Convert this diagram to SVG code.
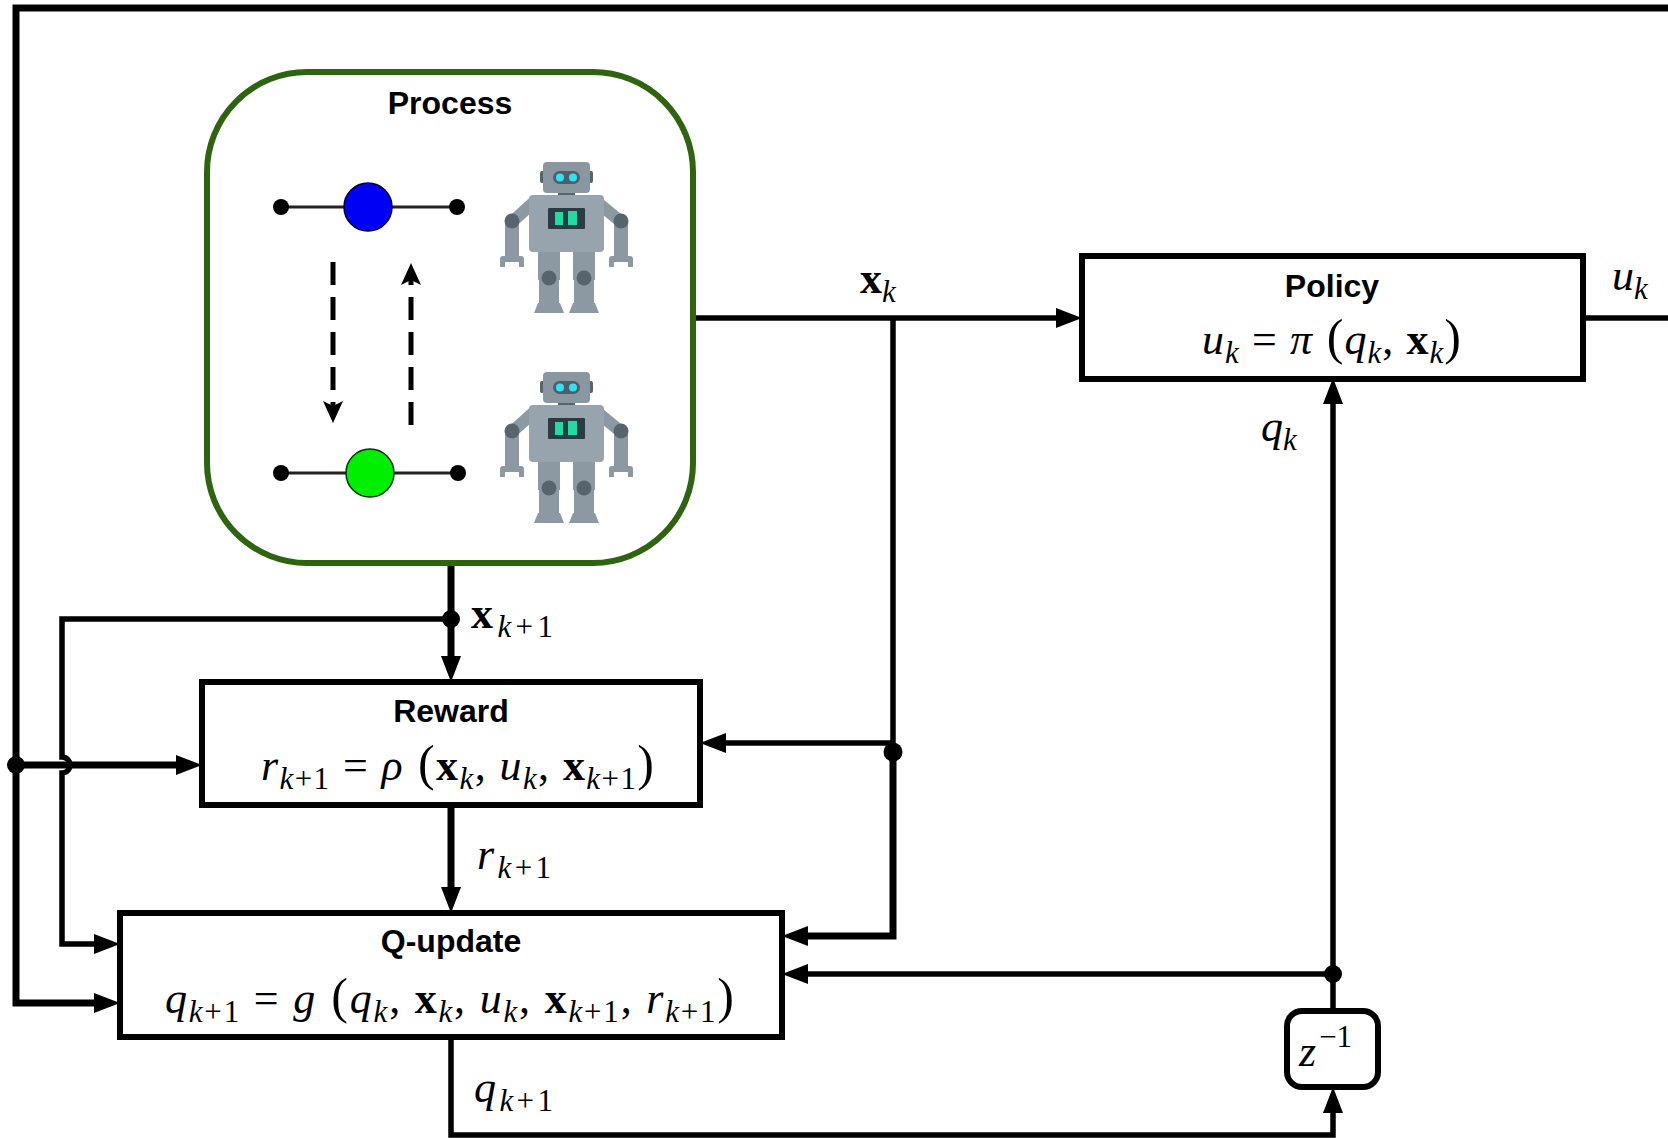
<svg xmlns="http://www.w3.org/2000/svg" width="1668" height="1138" viewBox="0 0 1668 1138">
  <defs>
    <style>
      .box{fill:#fff;stroke:#000;stroke-width:6}
      .title{font-family:"Liberation Sans",Arial,sans-serif;font-weight:bold;font-size:32px;text-anchor:middle;fill:#000}
      .math{font-family:"Liberation Serif","Times New Roman",serif;font-size:44px;fill:#000}
      .it{font-style:italic}
      .bf{font-weight:bold;font-style:normal}
      .sub{font-size:31px}
      .par{font-size:50px}
      .wire{fill:none;stroke:#000;stroke-width:5.5}
      .thick{stroke-width:7}
      .dot{fill:#000}
      .body{fill:#8c99a3}
      .joint{fill:#56646e}
    </style>
    <marker id="arr" markerUnits="userSpaceOnUse" markerWidth="26" markerHeight="20" refX="6" refY="10" orient="auto">
      <path d="M0,0 L26,10 L0,20 Z" fill="#000"/>
    </marker>
    <marker id="arrSmall" markerUnits="userSpaceOnUse" markerWidth="22" markerHeight="20" refX="7" refY="10" orient="auto">
      <path d="M0,0 L22,10 L0,20 L5,10 Z" fill="#000"/>
    </marker>
    <!-- flat robot icon, local origin at its top-left corner -->
    <g id="robot">
      <path d="M34,40 L13,59" stroke="#8c99a3" stroke-width="12" stroke-linecap="round"/>
      <path d="M97,40 L120,59" stroke="#8c99a3" stroke-width="12" stroke-linecap="round"/>
      <rect class="body" x="5" y="60" width="14" height="37"/>
      <rect class="body" x="114" y="60" width="14" height="37"/>
      <path class="body" d="M0,105 V97 Q0,94 3,94 H21 Q24,94 24,97 V105 H19 V100 H5 V105 Z"/>
      <path class="body" d="M109,105 V97 Q109,94 112,94 H130 Q133,94 133,97 V105 H128 V100 H114 V105 Z"/>
      <circle class="joint" cx="12" cy="59" r="7.5"/>
      <circle class="joint" cx="121" cy="59" r="7.5"/>
      <rect class="body" x="38" y="84" width="22" height="34"/>
      <rect class="body" x="73" y="84" width="22" height="34"/>
      <rect class="body" x="39" y="117" width="20" height="25"/>
      <rect class="body" x="74" y="117" width="20" height="25"/>
      <path class="body" d="M34,151 L38,141 H60 L64,151 Z"/>
      <path class="body" d="M69,151 L73,141 H95 L99,151 Z"/>
      <circle class="joint" cx="49" cy="116" r="7.5"/>
      <circle class="joint" cx="84" cy="116" r="7.5"/>
      <rect x="58" y="27" width="17" height="8" fill="#56646e"/>
      <rect x="29" y="33" width="75" height="57" rx="4" fill="#97a4ad"/>
      <rect x="40" y="9" width="5" height="12" rx="2" fill="#56646e"/>
      <rect x="88" y="9" width="5" height="12" rx="2" fill="#56646e"/>
      <rect x="43" y="0" width="47" height="31" rx="4" fill="#8a97a1"/>
      <rect x="53" y="9" width="27" height="13" rx="6.5" fill="#4f5e69"/>
      <circle cx="60" cy="15.5" r="4" fill="#33e2f0"/>
      <circle cx="73" cy="15.5" r="4" fill="#33e2f0"/>
      <rect x="48" y="46" width="37" height="21" rx="1" fill="#2c3a43"/>
      <rect x="55" y="50" width="8" height="13" fill="#1fdca4"/>
      <rect x="68" y="49" width="9" height="14" fill="#1fdca4"/>
    </g>
  </defs>

  <rect width="1668" height="1138" fill="#fff"/>

  <!-- signal lines -->
  <g id="connectors">
    <!-- outer feedback frame into Q-update -->
    <path class="wire thick" d="M1668,8 H16 V1003 H100" marker-end="url(#arr)"/>
    <!-- frame tap into Reward -->
    <path class="wire thick" d="M16,765 H182" marker-end="url(#arr)"/>
    <circle class="dot" cx="16" cy="765" r="9"/>
    <!-- x_{k+1} -->
    <path class="wire thick" d="M451,564 V662" marker-end="url(#arr)"/>
    <path class="wire" d="M451,619 H62 V757 A8,8 0 0 1 62,773 V944 H100" marker-end="url(#arr)"/>
    <circle class="dot" cx="451" cy="619" r="9"/>
    <!-- r_{k+1} -->
    <path class="wire thick" d="M451,805 V893" marker-end="url(#arr)"/>
    <!-- q_{k+1} through the delay -->
    <path class="wire" d="M451,1037 V1135 H1333 V1107" marker-end="url(#arr)"/>
    <!-- q_k -->
    <path class="wire" d="M1333,1011 V398" marker-end="url(#arr)"/>
    <path class="wire" d="M1333,974 H802" marker-end="url(#arr)"/>
    <circle class="dot" cx="1333" cy="974" r="9"/>
    <!-- x_k -->
    <path class="wire" d="M693,318 H1062" marker-end="url(#arr)"/>
    <path class="wire" d="M893,318 V752"/>
    <path class="wire thick" d="M893,752 V936 H802" marker-end="url(#arr)"/>
    <path class="wire" d="M893,743 H720" marker-end="url(#arr)"/>
    <circle class="dot" cx="893" cy="752" r="9.5"/>
    <!-- u_k -->
    <path class="wire" d="M1583,318 H1668"/>
  </g>

  <!-- signal labels -->
  <g id="labels" class="math">
    <text x="860" y="293"><tspan class="bf">x</tspan><tspan class="it sub" dy="9">k</tspan></text>
    <text x="1612" y="290"><tspan class="it">u</tspan><tspan class="it sub" dy="9">k</tspan></text>
    <text x="1261" y="441"><tspan class="it">q</tspan><tspan class="it sub" dy="9">k</tspan></text>
    <text x="471" y="628" textLength="82" lengthAdjust="spacing"><tspan class="bf">x</tspan><tspan class="sub" dy="9"><tspan class="it">k</tspan>+1</tspan></text>
    <text x="477" y="869" textLength="74" lengthAdjust="spacing"><tspan class="it">r</tspan><tspan class="sub" dy="9"><tspan class="it">k</tspan>+1</tspan></text>
    <text x="474" y="1102" textLength="79" lengthAdjust="spacing"><tspan class="it">q</tspan><tspan class="sub" dy="9"><tspan class="it">k</tspan>+1</tspan></text>
  </g>

  <!-- environment -->
  <g id="process">
    <rect x="207" y="72" width="486" height="491" rx="100" fill="#fff" stroke="#2e6410" stroke-width="6"/>
    <text class="title" x="450" y="114">Process</text>
    <line x1="281" y1="207" x2="457" y2="207" stroke="#222" stroke-width="3"/>
    <circle class="dot" cx="281" cy="207" r="8"/>
    <circle class="dot" cx="457" cy="207" r="8"/>
    <circle cx="368" cy="207" r="24" fill="#0000f5" stroke="#000040" stroke-width="1.5"/>
    <line x1="281" y1="473" x2="458" y2="473" stroke="#222" stroke-width="3"/>
    <circle class="dot" cx="281" cy="473" r="8"/>
    <circle class="dot" cx="458" cy="473" r="8"/>
    <circle cx="370" cy="473" r="24" fill="#00ee00" stroke="#003300" stroke-width="1.5"/>
    <path d="M333,262 V408" fill="none" stroke="#000" stroke-width="5" stroke-dasharray="23,12" marker-end="url(#arrSmall)"/>
    <path d="M411,425 V278" fill="none" stroke="#000" stroke-width="5" stroke-dasharray="23,12" marker-end="url(#arrSmall)"/>
    <use href="#robot" x="500" y="162"/>
    <use href="#robot" x="500" y="372"/>
  </g>

  <g id="policy">
    <rect class="box" x="1082" y="256" width="501" height="123"/>
    <text class="title" x="1332" y="297">Policy</text>
    <text class="math" x="1202" y="354" textLength="259" lengthAdjust="spacing"><tspan class="it">u</tspan><tspan class="it sub" dy="9">k</tspan><tspan dy="-9"> = </tspan><tspan class="it">π</tspan><tspan class="par"> (</tspan><tspan class="it">q</tspan><tspan class="it sub" dy="9">k</tspan><tspan dy="-9">, </tspan><tspan class="bf">x</tspan><tspan class="it sub" dy="9">k</tspan><tspan class="par" dy="-9">)</tspan></text>
  </g>

  <g id="reward">
    <rect class="box" x="202" y="682" width="498" height="123"/>
    <text class="title" x="451" y="722">Reward</text>
    <text class="math" x="261" y="780" textLength="393" lengthAdjust="spacing"><tspan class="it">r</tspan><tspan class="sub" dy="9"><tspan class="it">k</tspan>+1</tspan><tspan dy="-9"> = </tspan><tspan class="it">ρ</tspan><tspan class="par"> (</tspan><tspan class="bf">x</tspan><tspan class="it sub" dy="9">k</tspan><tspan dy="-9">, </tspan><tspan class="it">u</tspan><tspan class="it sub" dy="9">k</tspan><tspan dy="-9">, </tspan><tspan class="bf">x</tspan><tspan class="sub" dy="9"><tspan class="it">k</tspan>+1</tspan><tspan class="par" dy="-9">)</tspan></text>
  </g>

  <g id="q-update">
    <rect class="box" x="120" y="913" width="662" height="124"/>
    <text class="title" x="451" y="952">Q-update</text>
    <text class="math" x="165" y="1013" textLength="569" lengthAdjust="spacing"><tspan class="it">q</tspan><tspan class="sub" dy="9"><tspan class="it">k</tspan>+1</tspan><tspan dy="-9"> = </tspan><tspan class="it">g</tspan><tspan class="par"> (</tspan><tspan class="it">q</tspan><tspan class="it sub" dy="9">k</tspan><tspan dy="-9">, </tspan><tspan class="bf">x</tspan><tspan class="it sub" dy="9">k</tspan><tspan dy="-9">, </tspan><tspan class="it">u</tspan><tspan class="it sub" dy="9">k</tspan><tspan dy="-9">, </tspan><tspan class="bf">x</tspan><tspan class="sub" dy="9"><tspan class="it">k</tspan>+1</tspan><tspan dy="-9">, </tspan><tspan class="it">r</tspan><tspan class="sub" dy="9"><tspan class="it">k</tspan>+1</tspan><tspan class="par" dy="-9">)</tspan></text>
  </g>

  <g id="delay">
    <rect class="box" x="1287" y="1011" width="91" height="76" rx="15"/>
    <text class="math" x="1299" y="1066"><tspan class="it">z</tspan><tspan class="sub" dx="3" dy="-19">−1</tspan></text>
  </g>
</svg>
